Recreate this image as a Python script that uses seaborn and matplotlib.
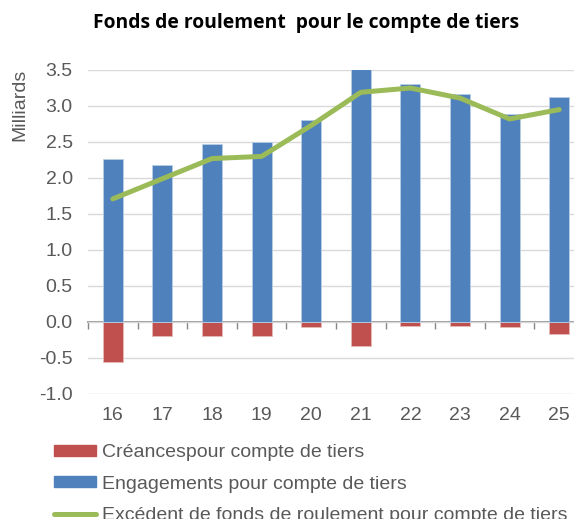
import matplotlib
matplotlib.use("Agg")
import matplotlib.pyplot as plt
import seaborn as sns
import pandas as pd
import numpy as np
from matplotlib.patches import Patch
from matplotlib.lines import Line2D

# Data (milliards)
years = ['16', '17', '18', '19', '20', '21', '22', '23', '24', '25']
engagements = [2.26, 2.18, 2.47, 2.50, 2.80, 3.52, 3.31, 3.17, 2.89, 3.12]
creances = [-0.55, -0.19, -0.20, -0.20, -0.07, -0.33, -0.06, -0.06, -0.07, -0.17]
excedent = [1.71, 1.99, 2.27, 2.30, 2.73, 3.19, 3.25, 3.11, 2.82, 2.95]

labels = ['Créancespour compte de tiers',
          'Engagements pour compte de tiers',
          'Excédent de fonds de roulement pour compte de tiers']

RED = '#C0504D'
BLUE = '#4F81BD'
GREEN = '#9BBB59'
GREY_TXT = '#595959'
GRID = '#D9D9D9'
FS = 14

sns.set_theme(style='white')
plt.rcParams['font.family'] = ['Liberation Sans', 'DejaVu Sans']

df = pd.DataFrame({'annee': years, 'engagements': engagements,
                   'creances': creances, 'excedent': excedent})

fig = plt.figure(figsize=(5.74, 5.19), dpi=100)
ax = fig.add_axes([88 / 574, 1 - 394 / 519, 496 / 574, 324 / 519])

sns.barplot(data=df, x='annee', y='creances', color=RED, saturation=1,
            width=0.4, edgecolor='#E6B9B8', linewidth=0.6, ax=ax)
sns.barplot(data=df, x='annee', y='engagements', color=BLUE, saturation=1,
            width=0.4, edgecolor='#B9CDE5', linewidth=0.6, ax=ax)
sns.pointplot(data=df, x='annee', y='excedent', color=GREEN, markers='',
              linewidth=3.6, errorbar=None, ax=ax)

ax.set_xlim(-0.5, len(years) - 0.5)
ax.set_ylim(-1.0, 3.5)
ax.set_yticks(np.arange(-1.0, 3.51, 0.5))
ax.set_yticklabels([f'{v:.1f}' for v in np.arange(-1.0, 3.51, 0.5)])
ax.yaxis.grid(True, color=GRID, linewidth=1)
ax.set_axisbelow(True)
for s in ax.spines.values():
    s.set_visible(False)
ax.tick_params(axis='y', length=0, pad=11, labelsize=FS, labelcolor=GREY_TXT)
ax.tick_params(axis='x', length=0, pad=9, labelsize=FS, labelcolor=GREY_TXT)
ax.set_xlabel('')
ax.set_ylabel('')

# axis line at zero with tick marks between categories
zero_pos = (0 - (-1.0)) / 4.5
sec = ax.secondary_xaxis(zero_pos)
sec.set_xticks(np.arange(len(years) + 1) - 0.5)
sec.set_xticklabels([])
sec.tick_params(length=5, width=1, color='#868686', direction='out')
sec.spines['bottom'].set_color('#868686')
sec.spines['bottom'].set_linewidth(1.2)

fig.text(306 / 574, 1 - 23 / 519, 'Fonds de roulement  pour le compte de tiers',
         ha='center', va='center', fontsize=13.9, fontweight='bold',
         family=['Open Sans', 'DejaVu Sans'], color='black')
fig.text(20 / 574, 1 - 105 / 519, 'Milliards', rotation=90, ha='center',
         va='center', fontsize=FS, color=GREY_TXT)

# legend sits under the axes; the last entry runs past the bottom edge as in the original
handles = [Patch(color=RED), Patch(color=BLUE),
           Line2D([0], [0], color=GREEN, linewidth=3.6, solid_capstyle='round')]
fig.legend(handles, labels, loc='upper left',
           bbox_to_anchor=(54 / 574, 1 - 444 / 519), frameon=False,
           fontsize=FS, labelcolor=GREY_TXT, handlelength=2.15,
           handleheight=0.5, handletextpad=0.3, labelspacing=0.75,
           borderaxespad=0, borderpad=0)

fig.savefig('out.png', dpi=100)
